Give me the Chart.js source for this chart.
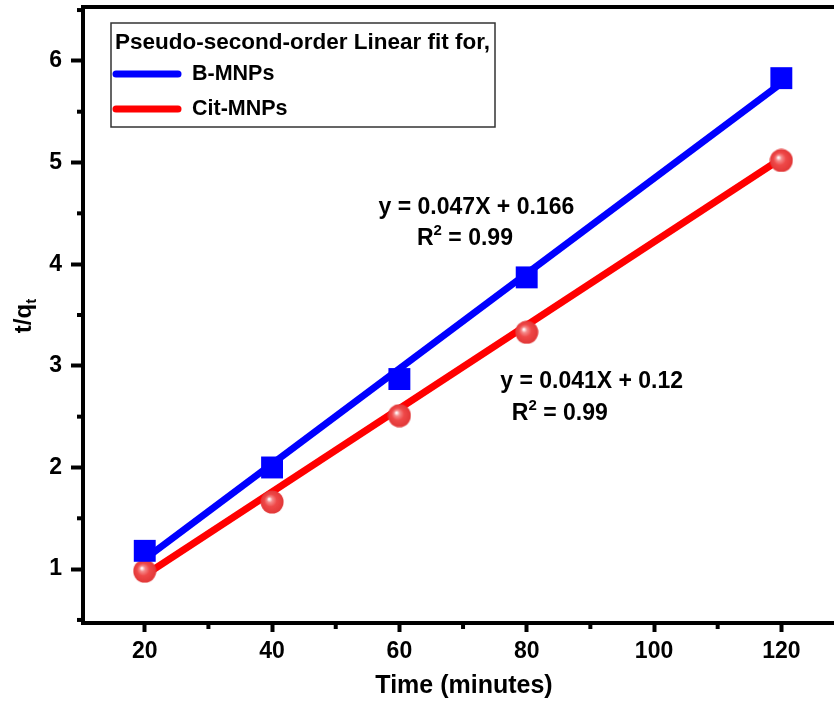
<!DOCTYPE html>
<html>
<head>
<meta charset="utf-8">
<script src="https://cdn.jsdelivr.net/npm/chart.js@4.4.0/dist/chart.umd.min.js"></script>
<style>
    html, body { margin: 0; padding: 0; background: #fff; overflow: hidden; }
    #wrap { width: 834px; height: 705px; overflow: hidden; }
</style>
</head>
<body>
<div id="wrap"><canvas id="chart" width="860" height="705"></canvas></div>
<script>
const times = [20, 40, 60, 80, 120];
const bMnps = [1.18, 2.0, 2.87, 3.87, 5.83];
const citMnps = [0.98, 1.66, 2.51, 3.33, 5.02];
const fitTimes = [20, 120];
const bFit = [1.1, 5.78];
const citFit = [0.94, 5.04];
const seriesNames = ['B-MNPs', 'Cit-MNPs'];
const xTicks = [20, 40, 60, 80, 100, 120];
const yTicks = [1, 2, 3, 4, 5, 6];

const FONT = 'Arial, "Liberation Sans", sans-serif';

function toPoints(xs, ys) {
    return xs.map((x, i) => ({x: x, y: ys[i]}));
}

// shaded red ball used for the Cit-MNPs markers
function makeBall() {
    const c = document.createElement('canvas');
    c.width = 24;
    c.height = 24;
    const g = c.getContext('2d');
    const grad = g.createRadialGradient(9, 9, 0.5, 12, 12, 12);
    grad.addColorStop(0, '#ffffff');
    grad.addColorStop(0.2, '#f58a8a');
    grad.addColorStop(0.5, '#ef4848');
    grad.addColorStop(1, '#e03636');
    g.fillStyle = grad;
    g.beginPath();
    g.arc(12, 12, 11.5, 0, Math.PI * 2);
    g.fill();
    return c;
}

const minorTicks = {
    id: 'minorTicks',
    afterDraw(chart) {
        const ctx = chart.ctx;
        const x = chart.scales.x, y = chart.scales.y;
        const a = chart.chartArea;
        ctx.save();
        ctx.strokeStyle = '#000';
        ctx.lineWidth = 4;
        const xs = xTicks[1] - xTicks[0];
        for (let v = xTicks[0] - xs / 2; v <= x.max; v += xs) {
            if (v < x.min) continue;
            const px = x.getPixelForValue(v);
            ctx.beginPath();
            ctx.moveTo(px, a.bottom);
            ctx.lineTo(px, a.bottom + 6);
            ctx.stroke();
        }
        const ys = yTicks[1] - yTicks[0];
        for (let v = yTicks[0] - ys / 2; v <= y.max; v += ys) {
            if (v < y.min) continue;
            const py = y.getPixelForValue(v);
            ctx.beginPath();
            ctx.moveTo(a.left, py);
            ctx.lineTo(a.left - 6, py);
            ctx.stroke();
        }
        // top and right frame
        ctx.beginPath();
        ctx.moveTo(a.left - 2, a.top);
        ctx.lineTo(a.right, a.top);
        ctx.lineTo(a.right, a.bottom);
        ctx.stroke();
        ctx.restore();
    }
};

function drawRSquared(ctx, cx, cy) {
    ctx.font = 'bold 23px ' + FONT;
    const wR = ctx.measureText('R').width;
    const wRest = ctx.measureText(' = 0.99').width;
    ctx.font = 'bold 15px ' + FONT;
    const w2 = ctx.measureText('2').width;
    let x0 = cx - (wR + w2 + wRest) / 2;
    ctx.textAlign = 'left';
    ctx.textBaseline = 'middle';
    ctx.font = 'bold 23px ' + FONT;
    ctx.fillText('R', x0, cy);
    ctx.font = 'bold 15px ' + FONT;
    ctx.fillText('2', x0 + wR, cy - 8);
    ctx.font = 'bold 23px ' + FONT;
    ctx.fillText(' = 0.99', x0 + wR + w2, cy);
}

const fitLabels = {
    id: 'fitLabels',
    afterDraw(chart) {
        const ctx = chart.ctx;
        const x = chart.scales.x, y = chart.scales.y;
        ctx.save();
        ctx.fillStyle = '#000';
        ctx.textAlign = 'center';
        ctx.textBaseline = 'middle';
        ctx.font = 'bold 23px ' + FONT;
        ctx.fillText('y = 0.047X + 0.166', x.getPixelForValue(72.1), y.getPixelForValue(4.56));
        drawRSquared(ctx, x.getPixelForValue(70.3), y.getPixelForValue(4.25));
        ctx.textAlign = 'center';
        ctx.font = 'bold 23px ' + FONT;
        ctx.fillText('y = 0.041X + 0.12', x.getPixelForValue(90.2), y.getPixelForValue(2.84));
        drawRSquared(ctx, x.getPixelForValue(85.2), y.getPixelForValue(2.53));

        // y axis title t/q_t
        ctx.translate(24, 316);
        ctx.rotate(-Math.PI / 2);
        ctx.font = 'bold 24px ' + FONT;
        const w1 = ctx.measureText('t/q').width;
        ctx.font = 'bold 15px ' + FONT;
        const w2 = ctx.measureText('t').width;
        const x0 = -(w1 + w2) / 2;
        ctx.textAlign = 'left';
        ctx.font = 'bold 24px ' + FONT;
        ctx.fillText('t/q', x0, 0);
        ctx.font = 'bold 15px ' + FONT;
        ctx.fillText('t', x0 + w1, 8);
        ctx.restore();
    }
};

const boxLegend = {
    id: 'boxLegend',
    afterDraw(chart) {
        const ctx = chart.ctx;
        ctx.save();
        ctx.fillStyle = '#fff';
        ctx.fillRect(111, 23, 384, 104);
        ctx.strokeStyle = '#333';
        ctx.lineWidth = 1.5;
        ctx.strokeRect(111, 23, 384, 104);
        ctx.fillStyle = '#000';
        ctx.textAlign = 'left';
        ctx.textBaseline = 'middle';
        ctx.font = 'bold 22.5px ' + FONT;
        ctx.fillText('Pseudo-second-order Linear fit for,', 115, 43);
        const fits = chart.data.datasets.filter(d => d.showLine);
        fits.forEach((d, i) => {
            const yy = 74 + i * 35;
            ctx.strokeStyle = d.borderColor;
            ctx.lineWidth = 7;
            ctx.lineCap = 'round';
            ctx.beginPath();
            ctx.moveTo(116, yy);
            ctx.lineTo(178, yy);
            ctx.stroke();
            ctx.font = 'bold 21.5px ' + FONT;
            ctx.fillText(d.label, 192, yy);
        });
        ctx.restore();
    }
};

new Chart(document.getElementById('chart'), {
    type: 'scatter',
    data: {
        datasets: [
            {
                label: seriesNames[0] + ' data',
                data: toPoints(times, bMnps),
                pointStyle: 'rect',
                pointRadius: 15.5,
                pointHoverRadius: 15.5,
                backgroundColor: '#0000ff',
                borderColor: '#0000ff',
                borderWidth: 0,
                order: 0
            },
            {
                label: seriesNames[1] + ' data',
                data: toPoints(times, citMnps),
                pointStyle: makeBall(),
                pointRadius: 12,
                order: 0
            },
            {
                label: seriesNames[0],
                data: toPoints(fitTimes, bFit),
                showLine: true,
                borderColor: '#0000ff',
                borderWidth: 7,
                pointRadius: 0,
                order: 1
            },
            {
                label: seriesNames[1],
                data: toPoints(fitTimes, citFit),
                showLine: true,
                borderColor: '#ff0000',
                borderWidth: 7,
                pointRadius: 0,
                order: 1
            }
        ]
    },
    options: {
        responsive: false,
        animation: false,
        layout: {autoPadding: false, padding: {top: 7, right: 15, left: 0, bottom: 0}},
        plugins: {
            legend: {display: false},
            tooltip: {enabled: false}
        },
        scales: {
            x: {
                type: 'linear',
                min: 10.3,
                max: 130,
                afterFit: function (scale) {
                    scale.height = 82;
                    scale.paddingLeft = 0;
                    scale.paddingRight = 0;
                },
                afterBuildTicks: function (scale) { scale.ticks = xTicks.map(v => ({value: v})); },
                border: {display: true, color: '#000', width: 4},
                grid: {drawOnChartArea: false, tickLength: 9, tickWidth: 4, tickColor: '#000'},
                ticks: {color: '#000', padding: 6, font: {family: FONT, size: 23, weight: 'bold'}},
                title: {
                    display: true,
                    text: 'Time (minutes)',
                    color: '#000',
                    padding: {top: 0, bottom: 4},
                    font: {family: FONT, size: 25, weight: 'bold'}
                }
            },
            y: {
                type: 'linear',
                min: 0.47,
                max: 6.53,
                afterFit: function (scale) {
                    scale.width = 83;
                    scale.paddingTop = 0;
                    scale.paddingBottom = 0;
                },
                afterBuildTicks: function (scale) { scale.ticks = yTicks.map(v => ({value: v})); },
                border: {display: true, color: '#000', width: 4},
                grid: {drawOnChartArea: false, tickLength: 12, tickWidth: 4, tickColor: '#000'},
                ticks: {color: '#000', padding: 9, font: {family: FONT, size: 23, weight: 'bold'}}
            }
        }
    },
    plugins: [minorTicks, fitLabels, boxLegend]
});
</script>
</body>
</html>
